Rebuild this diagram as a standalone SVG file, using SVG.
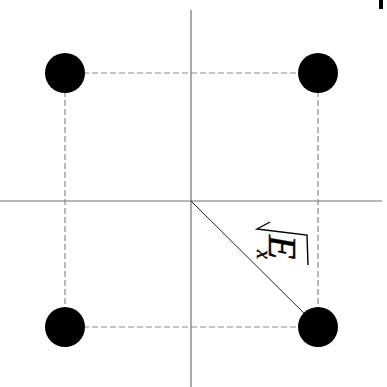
<svg xmlns="http://www.w3.org/2000/svg" width="387" height="387" viewBox="0 0 387 387">
<style>
.axis{stroke:#707070;stroke-width:1.2;fill:none}
.dash{stroke:#8a8a8a;stroke-width:1.2;stroke-dasharray:6 3;fill:none}
.pt{fill:#000}
.lbl{font-family:"Liberation Serif",serif;font-style:italic;fill:#000;stroke:#000;stroke-width:0.4}
</style>
<rect width="387" height="387" fill="#fff"/>
<rect x="379" y="0" width="4" height="9" fill="#000"/>
<g id="connectors">
<line class="axis" x1="191" y1="10" x2="191" y2="387"/>
<line class="axis" x1="0" y1="201" x2="382" y2="201"/>
<line class="dash" x1="65" y1="73" x2="318" y2="73"/>
<line class="dash" x1="65" y1="327" x2="318" y2="327"/>
<line class="dash" x1="65" y1="73" x2="65" y2="327"/>
<line class="dash" x1="318" y1="73" x2="318" y2="327"/>
<line x1="191" y1="201" x2="318" y2="327" stroke="#222" stroke-width="1"/>
</g>
<g id="p1"><circle class="pt" cx="65" cy="73" r="20"/></g>
<g id="p2"><circle class="pt" cx="318" cy="73" r="20"/></g>
<g id="p3"><circle class="pt" cx="65" cy="327" r="20"/></g>
<g id="p4"><circle class="pt" cx="318" cy="327" r="20"/></g>
<g id="label" transform="translate(290,230) rotate(90)">
<polyline points="-8,20 -1,33 5,-17 35,-18" fill="none" stroke="#000" stroke-width="1.4"/>
<text class="lbl" x="5" y="21" font-size="40">E</text>
<text class="lbl" x="20" y="33" font-size="20">x</text>
</g>
</svg>
